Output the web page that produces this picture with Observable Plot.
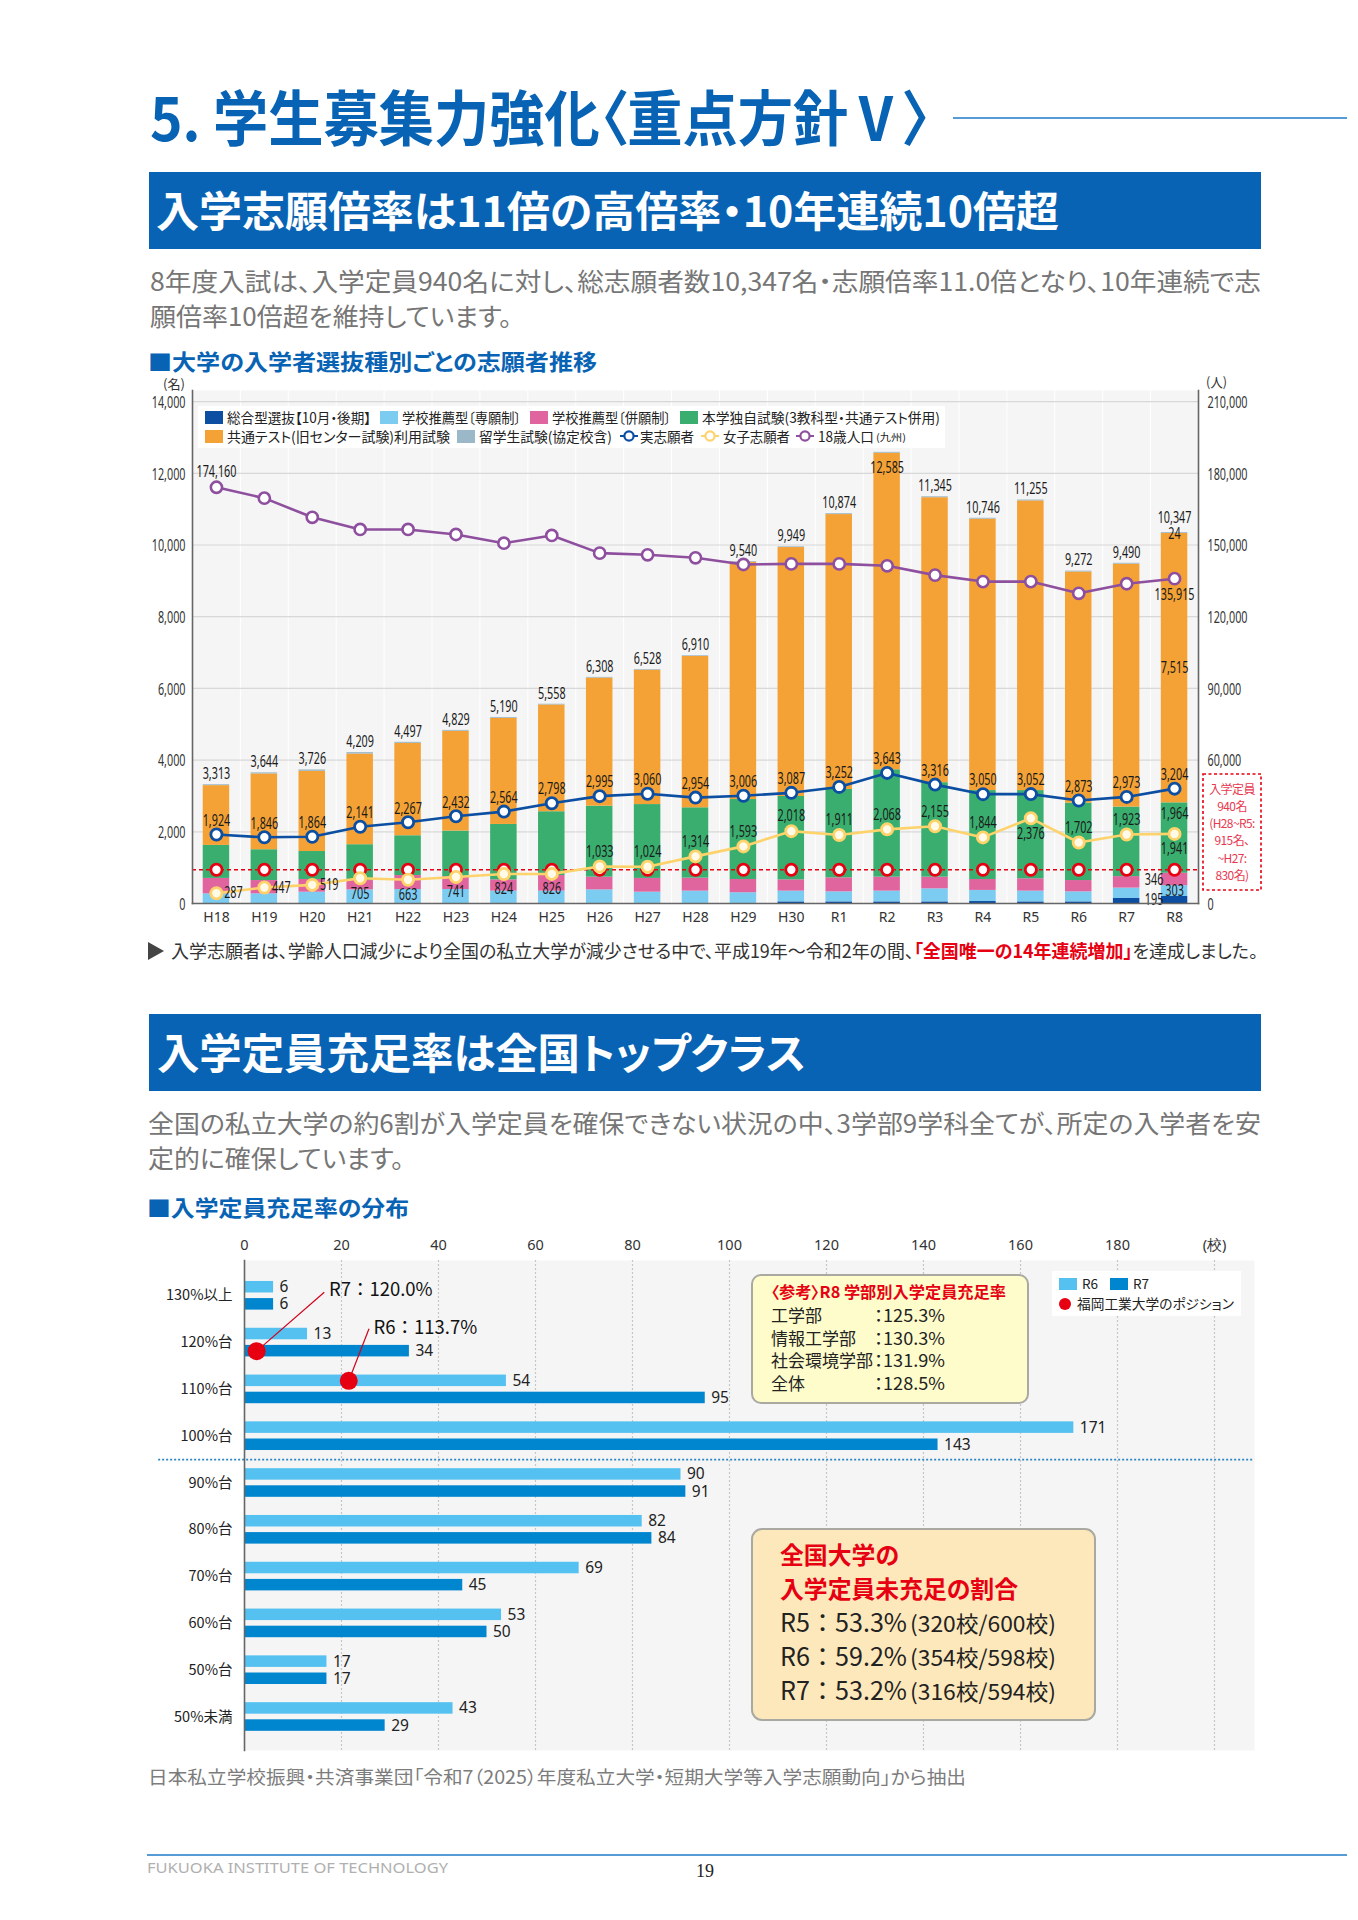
<!DOCTYPE html>
<html lang="ja">
<head>
<meta charset="utf-8">
<script src="https://cdn.jsdelivr.net/npm/d3@7"></script>
<script src="https://cdn.jsdelivr.net/npm/@observablehq/plot@0.6"></script>
<style>
html,body{margin:0;padding:0;background:#fff}
#page{position:relative;width:1358px;height:1920px;overflow:hidden;background:#fff}
#page svg{position:absolute;left:0;overflow:visible}
#page text{font-feature-settings:"palt"}
#page text.full{font-feature-settings:normal}
#overlay{top:0;pointer-events:none;font-family:"Noto Sans CJK JP"}
</style>
</head>
<body>
<div id="page"></div>
<script>
// ---------- chart 1 data ----------
const years = ["H18","H19","H20","H21","H22","H23","H24","H25","H26","H27","H28","H29","H30","R1","R2","R3","R4","R5","R6","R7","R8"];
const seriesNames = ["総合型選抜【10月・後期】","学校推薦型〔専願制〕","学校推薦型〔併願制〕","本学独自試験(3教科型・共通テスト併用)","共通テスト(旧センター試験)利用試験","留学生試験(協定校含)"];
const seriesColors = ["#0b4ea2","#7ccbf1","#e0659f","#3aae6e","#f4a236","#9bb8c9"];
const sogo     = [0,0,0,0,0,0,0,0,0,0,0,0,45,45,45,45,55,45,45,140,195];
const senGan   = [270,270,316,380,390,390,345,345,380,316,345,300,300,280,300,365,310,300,280,290,303];
const heiGan   = [430,370,354,260,390,360,315,435,355,384,362,370,315,391,390,325,305,345,315,320,346];
const dokuji   = [920,860,780,1000,1110,1270,1545,1780,1980,2060,1963,2230,2325,2464,2995,2635,2480,2460,2160,1940,1964];
const kyotsu   = [1668,2114,2236,2529,2577,2784,2960,2978,3573,3748,4220,6620,6944,7669,8830,7950,7571,8080,6447,6775,7515];
const ryugaku  = [25,30,40,40,30,25,25,20,20,20,20,20,20,25,25,25,25,25,25,25,24];
const totals   = [3313,3644,3726,4209,4497,4829,5190,5558,6308,6528,6910,9540,9949,10874,12585,11345,10746,11255,9272,9490,10347];
const jitsu    = [1924,1846,1864,2141,2267,2432,2564,2798,2995,3060,2954,3006,3087,3252,3643,3316,3050,3052,2873,2973,3204];
const joshi    = [287,447,519,705,663,741,824,826,1033,1024,1314,1593,2018,1911,2068,2155,1844,2376,1702,1923,1941];
const pop18    = [174160,169600,161600,156500,156500,154400,150750,154000,146600,145900,144650,141850,142100,142100,141300,137400,134700,134700,129800,133800,135915];
const teiin    = 940;
const popPerPerson = 15; // right axis 210,000 sits on left axis 14,000
const joshiRight = ["H18","H19","H20"];
const joshiBelow = ["H21","H22","H23","H24","H25","R5","R8"];

// ---------- chart 2 data ----------
const rates = ["130%以上","120%台","110%台","100%台","90%台","80%台","70%台","60%台","50%台","50%未満"];
const r6 = [6,13,54,171,90,82,69,53,17,43];
const r7 = [6,34,95,143,91,84,45,50,17,29];
const schoolTicks = [0,20,40,60,80,100,120,140,160,180,200];

const fmt = d3.format(",");
const page = document.getElementById("page");

// ---------- chart 1 ----------
const stackRows = [sogo,senGan,heiGan,dokuji,kyotsu,ryugaku].flatMap((arr,k)=>arr.map((v,i)=>({year:years[i],series:seriesNames[k],v})));
const rows = years.map((year,i)=>({year,total:totals[i],jitsu:jitsu[i],joshi:joshi[i],pop:pop18[i],teiin}));
const last = years.length-1;
const cumR8 = [sogo,senGan,heiGan,dokuji,kyotsu].map(a=>a[last]);
const midR8 = k => d3.sum(cumR8.slice(0,k)) + cumR8[k]/2;
const txt = {fill:"#1a1a1a",fontSize:16.5,fontFamily:"Noto Sans"};

const chart1 = Plot.plot({
  width:1358,height:575,marginTop:30,marginBottom:32,marginLeft:192,marginRight:160,
  style:{background:"transparent",fontFamily:"Noto Sans"},
  x:{domain:years,paddingInner:0.447,paddingOuter:0.2235,round:false,label:null},
  y:{domain:[0,14310],label:null},
  color:{domain:seriesNames,range:seriesColors},
  marks:[
    Plot.frame({fill:"#f5f5f5",stroke:null}),
    Plot.ruleX(years,{x:d=>d,stroke:"#fff",dx:23.95}),
    Plot.ruleY(d3.range(2000,14001,2000),{stroke:"#d8d8d8",strokeWidth:1.2}),
    Plot.barY(stackRows,{x:"year",y:"v",fill:"series",order:seriesNames}),
    Plot.ruleY([teiin],{stroke:"#e60012",strokeWidth:1.6,strokeDasharray:"4 3"}),
    Plot.dot(rows,{x:"year",y:"teiin",r:5.6,fill:"#fff",stroke:"#e60012",strokeWidth:2.8}),
    Plot.line(rows,{x:"year",y:d=>d.pop/popPerPerson,stroke:"#8e4f9e",strokeWidth:2.6}),
    Plot.dot(rows,{x:"year",y:d=>d.pop/popPerPerson,r:5.6,fill:"#fff",stroke:"#8e4f9e",strokeWidth:2.6}),
    Plot.line(rows,{x:"year",y:"jitsu",stroke:"#0b4ea2",strokeWidth:2.6}),
    Plot.line(rows,{x:"year",y:"joshi",stroke:"#ffd36b",strokeWidth:2.6}),
    Plot.dot(rows,{x:"year",y:"joshi",r:5.6,fill:"#fffbe8",stroke:"#ffd36b",strokeWidth:2.8}),
    Plot.dot(rows,{x:"year",y:"jitsu",r:5.6,fill:"#fff",stroke:"#0b4ea2",strokeWidth:2.8}),
    // total labels
    Plot.text(rows.filter(d=>d.year!=="R2"&&d.year!=="R8"),{x:"year",y:"total",text:d=>fmt(d.total),dy:-11,...txt}),
    Plot.text(rows.filter(d=>d.year==="R2"),{x:"year",y:"total",text:d=>fmt(d.total),dy:15,...txt}),
    Plot.text(rows.filter(d=>d.year==="R8"),{x:"year",y:"total",text:d=>fmt(d.total),dy:-15,...txt}),
    // applicants / women's labels
    Plot.text(rows,{x:"year",y:"jitsu",text:d=>fmt(d.jitsu),dy:-14,...txt}),
    Plot.text(rows.filter(d=>joshiRight.includes(d.year)),{x:"year",y:"joshi",text:d=>fmt(d.joshi),dx:17,...txt}),
    Plot.text(rows.filter(d=>joshiBelow.includes(d.year)),{x:"year",y:"joshi",text:d=>fmt(d.joshi),dy:15,...txt}),
    Plot.text(rows.filter(d=>!joshiRight.includes(d.year)&&!joshiBelow.includes(d.year)),{x:"year",y:"joshi",text:d=>fmt(d.joshi),dy:-15,...txt}),
    // population labels
    Plot.text(rows.filter(d=>d.year==="H18"),{x:"year",y:d=>d.pop/popPerPerson,text:d=>fmt(d.pop),dy:-16,...txt}),
    Plot.text(rows.filter(d=>d.year==="R8"),{x:"year",y:d=>d.pop/popPerPerson,text:d=>fmt(d.pop),dy:16,...txt}),
    // R8 breakdown
    Plot.text([0],{x:()=>"R8",y:()=>midR8(0),text:()=>fmt(sogo[last]),dx:-20.5,...txt}),
    Plot.text([0],{x:()=>"R8",y:()=>midR8(1),text:()=>fmt(senGan[last]),...txt}),
    Plot.text([0],{x:()=>"R8",y:()=>midR8(2),text:()=>fmt(heiGan[last]),dx:-20.5,...txt}),
    Plot.text([0],{x:()=>"R8",y:()=>midR8(3),text:()=>fmt(dokuji[last]),dy:-24,...txt}),
    Plot.text([0],{x:()=>"R8",y:()=>midR8(4),text:()=>fmt(kyotsu[last]),...txt}),
    Plot.text([0],{x:()=>"R8",y:()=>totals[last],text:()=>fmt(ryugaku[last]),dy:1,...txt}),
    // axes
    Plot.axisY({anchor:"left",ticks:d3.range(0,14001,2000),tickSize:0,tickPadding:7,dy:1,label:null,fontSize:16.5,fill:"#333"}),
    Plot.axisY({anchor:"right",ticks:[0,...d3.range(4000,14001,2000)],tickSize:0,tickPadding:9,dy:1,label:null,fontSize:16.5,fill:"#333",tickFormat:d=>fmt(d*popPerPerson)}),
    Plot.axisX({tickSize:0,tickPadding:9,label:null,fontSize:14,fill:"#333",fontFamily:"Noto Sans"}),
    Plot.frame({anchor:"left",stroke:"#666",strokeWidth:1.6}),
    Plot.frame({anchor:"right",stroke:"#666",strokeWidth:1.6}),
    Plot.frame({anchor:"bottom",stroke:"#666",strokeWidth:1.6})
  ]
});
chart1.style.top="360px";
page.appendChild(chart1);
// the reference's number labels are condensed: narrow every number label to the same width ratio
chart1.querySelectorAll("text").forEach(t=>{
  if(getComputedStyle(t).fontSize==="16.5px"){
    t.setAttribute("textLength",(t.getComputedTextLength()*0.655).toFixed(1));
    t.setAttribute("lengthAdjust","spacingAndGlyphs");
  }
});

// ---------- chart 2 ----------
const groupRows = rates.map((rate,i)=>({i,rate,r6:r6[i],r7:r7[i]}));
const barOuter=0.306, barInner=0.06, barMid=(barOuter+barInner)/2;
const vtxt = {fill:"#222",fontSize:15.5,fontFamily:"Noto Sans",textAnchor:"start",dx:6};
const chart2 = Plot.plot({
  width:1358,height:524,marginTop:30,marginBottom:4,marginLeft:244,marginRight:104,
  style:{background:"transparent",fontFamily:"Noto Sans CJK JP"},
  x:{domain:[0,208.25],label:null},
  y:{domain:[9.716,-0.754],label:null},
  marks:[
    Plot.frame({fill:"#f5f5f5",stroke:null}),
    Plot.ruleX(schoolTicks.slice(1),{stroke:"#c6c6c6",strokeDasharray:"2 2",strokeWidth:1.2}),
    Plot.rectX(groupRows,{x1:0,x2:"r6",y1:d=>d.i-barOuter,y2:d=>d.i-barInner,fill:"#55c1f1"}),
    Plot.rectX(groupRows,{x1:0,x2:"r7",y1:d=>d.i+barInner,y2:d=>d.i+barOuter,fill:"#0085cf"}),
    Plot.text(groupRows,{x:"r6",y:d=>d.i-barMid,text:"r6",...vtxt}),
    Plot.text(groupRows,{x:"r7",y:d=>d.i+barMid,text:"r7",...vtxt}),
    Plot.ruleY([3.5],{x1:-17.7,x2:208.25,stroke:"#2a85c4",strokeWidth:1.6,strokeDasharray:"2 2"}),
    Plot.link([0],{x1:()=>2.5,y1:()=>1+barMid,x2:()=>16.45,y2:()=>-0.077,stroke:"#d0021b",strokeWidth:1.2}),
    Plot.link([0],{x1:()=>21.5,y1:()=>2-barMid,x2:()=>25.67,y2:()=>0.705,stroke:"#d0021b",strokeWidth:1.2}),
    Plot.dot([0],{x:()=>2.5,y:()=>1+barMid,r:9,fill:"#e60012"}),
    Plot.dot([0],{x:()=>21.5,y:()=>2-barMid,r:9,fill:"#e60012"}),
    Plot.text(["R7：120.0%"],{x:()=>17.4,y:()=>-0.113,text:d=>d,textAnchor:"start",fontSize:18.5,fill:"#111",fontFamily:"Noto Sans CJK JP"}),
    Plot.text(["R6：113.7%"],{x:()=>26.6,y:()=>0.7,text:d=>d,textAnchor:"start",fontSize:18.5,fill:"#111",fontFamily:"Noto Sans CJK JP"}),
    Plot.axisX({anchor:"top",ticks:schoolTicks,tickSize:0,tickPadding:11,label:null,fontSize:14.5,fill:"#333",fontFamily:"Noto Sans",tickFormat:d=>d===200?"(校)":d}),
    Plot.axisY({anchor:"left",ticks:d3.range(rates.length),tickSize:0,tickPadding:12,label:null,fontSize:14.5,fill:"#222",tickFormat:i=>rates[i]}),
    Plot.frame({anchor:"left",stroke:"#666",strokeWidth:1.6})
  ]
});
chart2.style.top="1230px";
page.appendChild(chart2);
chart2.querySelectorAll("text").forEach(t=>{ if(t.textContent.includes("：")) t.classList.add("full"); });

// ---------- page furniture ----------
function T(s,x,y,size,w,fill,extra=""){
  const fit = w?` textLength="${w}" lengthAdjust="spacingAndGlyphs"`:"";
  return `<text x="${x}" y="${y}" font-size="${size}" fill="${fill}"${fit} ${extra}>${s}</text>`;
}
const B='font-weight="700"';
const blue="#0863b4", grey="#767676", red="#e60012";
let o="";
// headings
o+=T("5. 学生募集力強化〈重点方針Ⅴ〉",150,141,60,781,blue,B);
o+=`<line x1="953" x2="1347" y1="118" y2="118" stroke="#1e78c8" stroke-width="1.5"/>`;
o+=`<rect x="149" y="172" width="1112" height="77" fill="${blue}"/>`;
o+=T("入学志願倍率は11倍の高倍率・10年連続10倍超",156,227,42,903,"#fff",B);
o+=T("8年度入試は、入学定員940名に対し、総志願者数10,347名・志願倍率11.0倍となり、10年連続で志",150,291,25,1111,grey);
o+=T("願倍率10倍超を維持しています。",150,326,25,362,grey);
o+=T("■大学の入学者選抜種別ごとの志願者推移",148,370,22,449,blue,B);
o+=T("(名)",163,389,13,22,"#333");
o+=T("(人)",1206,387,13,21,"#333");
// chart 1 legend
o+=`<rect x="198" y="406" width="747" height="42" fill="#fff"/>`;
[[205,411,0],[380,411,1],[530,411,2],[680,411,3],[205,430,4],[457,430,5]].forEach(([x,y,k])=>{
  o+=`<rect x="${x}" y="${y}" width="18" height="13" fill="${seriesColors[k]}"/>`;
});
o+=T(seriesNames[0],227,423,14,144,"#222");
o+=T(seriesNames[1],402,423,14,119,"#222");
o+=T(seriesNames[2],552,423,14,119,"#222");
o+=T(seriesNames[3],702,423,14,238,"#222");
o+=T(seriesNames[4],227,442,14,223,"#222");
o+=T(seriesNames[5],479,442,14,133,"#222");
[[629,"#0b4ea2","実志願者",640,54],[710,"#ffd36b","女子志願者",723,67],[805,"#8e4f9e","18歳人口",818,56]].forEach(([cx,c,s,x,w])=>{
  o+=`<line x1="${cx-9}" x2="${cx+9}" y1="436" y2="436" stroke="${c}" stroke-width="2"/><circle cx="${cx}" cy="436" r="4.6" fill="#fff" stroke="${c}" stroke-width="2.2"/>`;
  o+=T(s,x,442,14,w,"#222");
});
o+=T("(九州)",876,441,10,30,"#222");
// capacity box
o+=`<rect x="1203" y="774" width="58" height="116" fill="#fff" stroke="${red}" stroke-width="1.6" stroke-dasharray="3 2.5"/>`;
[["入学定員",794],["940名",811],["(H28~R5:",828],["915名、",845],["~H27:",863],["830名)",880]].forEach(([s,y])=>{
  o+=T(s,1232,y,12,null,"#e8384f",'text-anchor="middle" letter-spacing="-0.6"');
});
// note
o+=`<path d="M148 942 L164 951 L148 960 Z" fill="#444"/>`;
o+=`<text x="171" y="958" font-size="18.5" fill="#333" textLength="1087" lengthAdjust="spacingAndGlyphs">入学志願者は、学齢人口減少により全国の私立大学が減少させる中で、平成19年～令和2年の間、<tspan fill="${red}" font-weight="700">「全国唯一の14年連続増加」</tspan>を達成しました。</text>`;
// second section
o+=`<rect x="149" y="1014" width="1112" height="77" fill="${blue}"/>`;
o+=T("入学定員充足率は全国トップクラス",157,1069,42,649,"#fff",B);
o+=T("全国の私立大学の約6割が入学定員を確保できない状況の中、3学部9学科全てが、所定の入学者を安",148,1133,25,1113,grey);
o+=T("定的に確保しています。",148,1168,25,256,grey);
o+=T("■入学定員充足率の分布",147,1216,22,262,blue,B);
// chart 2 legend
o+=`<rect x="1052" y="1271" width="189" height="45" fill="#fff"/>`;
o+=`<rect x="1059" y="1278" width="18" height="12" fill="#55c1f1"/>`+T("R6",1082,1289,13.5,null,"#222");
o+=`<rect x="1110" y="1278" width="18" height="12" fill="#0085cf"/>`+T("R7",1133,1289,13.5,null,"#222");
o+=`<circle cx="1065" cy="1304" r="6" fill="${red}"/>`+T("福岡工業大学のポジション",1077,1309,13.5,157,"#222");
// reference box
o+=`<rect x="752" y="1275" width="276" height="128" rx="9" fill="#fefccb" stroke="#a9a9a2" stroke-width="2"/>`;
o+=T("〈参考〉R8 学部別入学定員充足率",771,1298,16,235,red,B);
[["工学部","：125.3%",1322],["情報工学部","：130.3%",1344.5],["社会環境学部","：131.9%",1367],["全体","：128.5%",1390]].forEach(([a,b,y])=>{
  o+=T(a,771,y,17,null,"#222");
  o+=T(b,874,y,17.5,71,"#222");
});
// unfilled box
o+=`<rect x="752" y="1529" width="343" height="191" rx="10" fill="#fde8bb" stroke="#a9a9a2" stroke-width="2"/>`;
o+=T("全国大学の",780,1564,23.5,119,red,B);
o+=T("入学定員未充足の割合",780,1598,23.5,238,red,B);
[["R5：53.3%","(320校/600校)",1632],["R6：59.2%","(354校/598校)",1666],["R7：53.2%","(316校/594校)",1700]].forEach(([a,b,y])=>{
  o+=T(a,780,y,25,127,"#222",'class="full"');
  o+=T(b,910,y,22,146,"#222");
});
// footer
o+=T("日本私立学校振興・共済事業団「令和7（2025）年度私立大学・短期大学等入学志願動向」から抽出",148,1784,18.5,818,"#7c7c7c");
o+=`<line x1="147" x2="1347" y1="1855" y2="1855" stroke="#1e78c8" stroke-width="1.5"/>`;
o+=T("FUKUOKA INSTITUTE OF TECHNOLOGY",147,1873,14,301,"#b0b0b0",'font-family="Noto Sans"');
o+=T("19",705,1877,18,null,"#222",'font-family="Liberation Serif" text-anchor="middle"');

const overlay=document.createElementNS("http://www.w3.org/2000/svg","svg");
overlay.setAttribute("id","overlay");
overlay.setAttribute("width",1358);overlay.setAttribute("height",1920);
overlay.innerHTML=o;
page.appendChild(overlay);
</script>
</body>
</html>
